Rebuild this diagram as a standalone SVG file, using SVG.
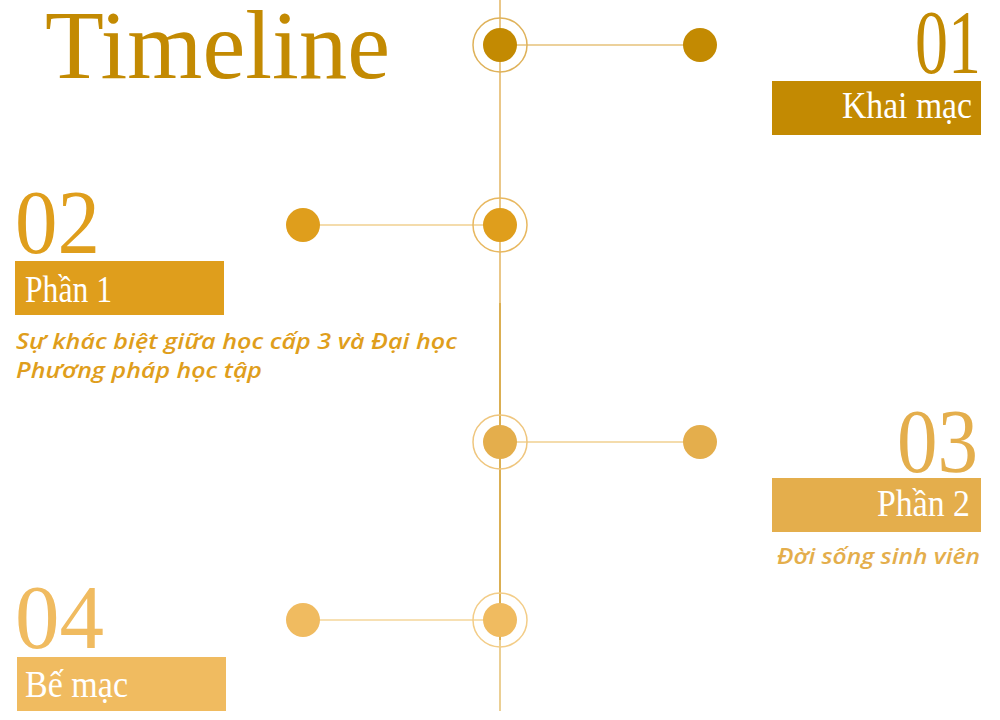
<svg xmlns="http://www.w3.org/2000/svg" width="1000" height="720" viewBox="0 0 1000 720">
  <style>
    .title { font-family: "Liberation Serif", "DejaVu Serif", serif; }
    .num { font-family: "Liberation Serif", "DejaVu Serif", serif; font-size: 92px; }
    .lbl { font-family: "Liberation Serif", "DejaVu Serif", serif; font-size: 38px; fill: #ffffff; }
    .sub { font-family: "Open Sans", "Noto Sans", "DejaVu Sans", sans-serif; font-style: italic; font-weight: 600; font-size: 21px; }
    .conn { stroke-width: 1.5; fill: none; }
    .ring { fill: none; stroke-width: 1.5; }
  </style>
  <rect width="1000" height="720" fill="#ffffff"/>

  <text class="title" x="45" y="78" font-size="98" fill="#c38a02" textLength="345" lengthAdjust="spacingAndGlyphs">Timeline</text>

  <g id="connectors">
    <line class="conn" x1="500" y1="0" x2="500" y2="303" stroke="#e3b460"/>
    <line class="conn" x1="500" y1="303" x2="500" y2="640" stroke="#cf9418"/>
    <line class="conn" x1="500" y1="640" x2="500" y2="711" stroke="#e5bf70"/>
    <line class="conn" x1="500" y1="45" x2="700" y2="45" stroke="#e6c27a"/>
    <line class="conn" x1="303" y1="225" x2="500" y2="225" stroke="#f0d090"/>
    <line class="conn" x1="500" y1="442" x2="700" y2="442" stroke="#f0d090"/>
    <line class="conn" x1="303" y1="620" x2="500" y2="620" stroke="#f5d69a"/>
  </g>

  <g id="node1">
    <circle class="ring" cx="500" cy="45" r="27" stroke="#dfb25a"/>
    <circle cx="500" cy="45" r="17" fill="#c38a02"/>
    <circle cx="700" cy="45" r="17" fill="#c38a02"/>
    <text class="num" x="981" y="73" text-anchor="end" fill="#c38a02" textLength="66" lengthAdjust="spacingAndGlyphs">01</text>
    <rect x="772" y="81" width="209" height="54" fill="#c38a02"/>
    <text class="lbl" x="972" y="118" text-anchor="end" textLength="130" lengthAdjust="spacingAndGlyphs">Khai mạc</text>
  </g>

  <g id="node2">
    <circle class="ring" cx="500" cy="225" r="27" stroke="#e8b860"/>
    <circle cx="500" cy="225" r="17" fill="#df9e1c"/>
    <circle cx="303" cy="225" r="17" fill="#df9e1c"/>
    <text class="num" x="15" y="253" fill="#df9e1c" textLength="85" lengthAdjust="spacingAndGlyphs">02</text>
    <rect x="15" y="261" width="209" height="54" fill="#df9e1c"/>
    <text class="lbl" x="25" y="302" textLength="87" lengthAdjust="spacingAndGlyphs">Phần 1</text>
    <text class="sub" x="16" y="349" fill="#df9e1c" textLength="441" lengthAdjust="spacingAndGlyphs">Sự khác biệt giữa học cấp 3 và Đại học</text>
    <text class="sub" x="16" y="378" fill="#df9e1c" textLength="246" lengthAdjust="spacingAndGlyphs">Phương pháp học tập</text>
  </g>

  <g id="node3">
    <circle class="ring" cx="500" cy="442" r="27" stroke="#efc67e"/>
    <circle cx="500" cy="442" r="17" fill="#e4ae4c"/>
    <circle cx="700" cy="442" r="17" fill="#e4ae4c"/>
    <text class="num" x="978" y="472" text-anchor="end" fill="#e4ae4c" textLength="81" lengthAdjust="spacingAndGlyphs">03</text>
    <rect x="772" y="478" width="209" height="54" fill="#e4ae4c"/>
    <text class="lbl" x="970" y="516" text-anchor="end" textLength="93" lengthAdjust="spacingAndGlyphs">Phần 2</text>
    <text class="sub" x="980" y="564" text-anchor="end" fill="#e4ae4c" textLength="203" lengthAdjust="spacingAndGlyphs">Đời sống sinh viên</text>
  </g>

  <g id="node4">
    <circle class="ring" cx="500" cy="620" r="27" stroke="#f3cd88"/>
    <circle cx="500" cy="620" r="17" fill="#f0bb60"/>
    <circle cx="303" cy="620" r="17" fill="#f0bb60"/>
    <text class="num" x="15" y="648" fill="#f0bb60" textLength="89" lengthAdjust="spacingAndGlyphs">04</text>
    <rect x="17" y="657" width="209" height="54" fill="#f0bb60"/>
    <text class="lbl" x="25" y="697" textLength="103" lengthAdjust="spacingAndGlyphs">Bế mạc</text>
  </g>
</svg>
